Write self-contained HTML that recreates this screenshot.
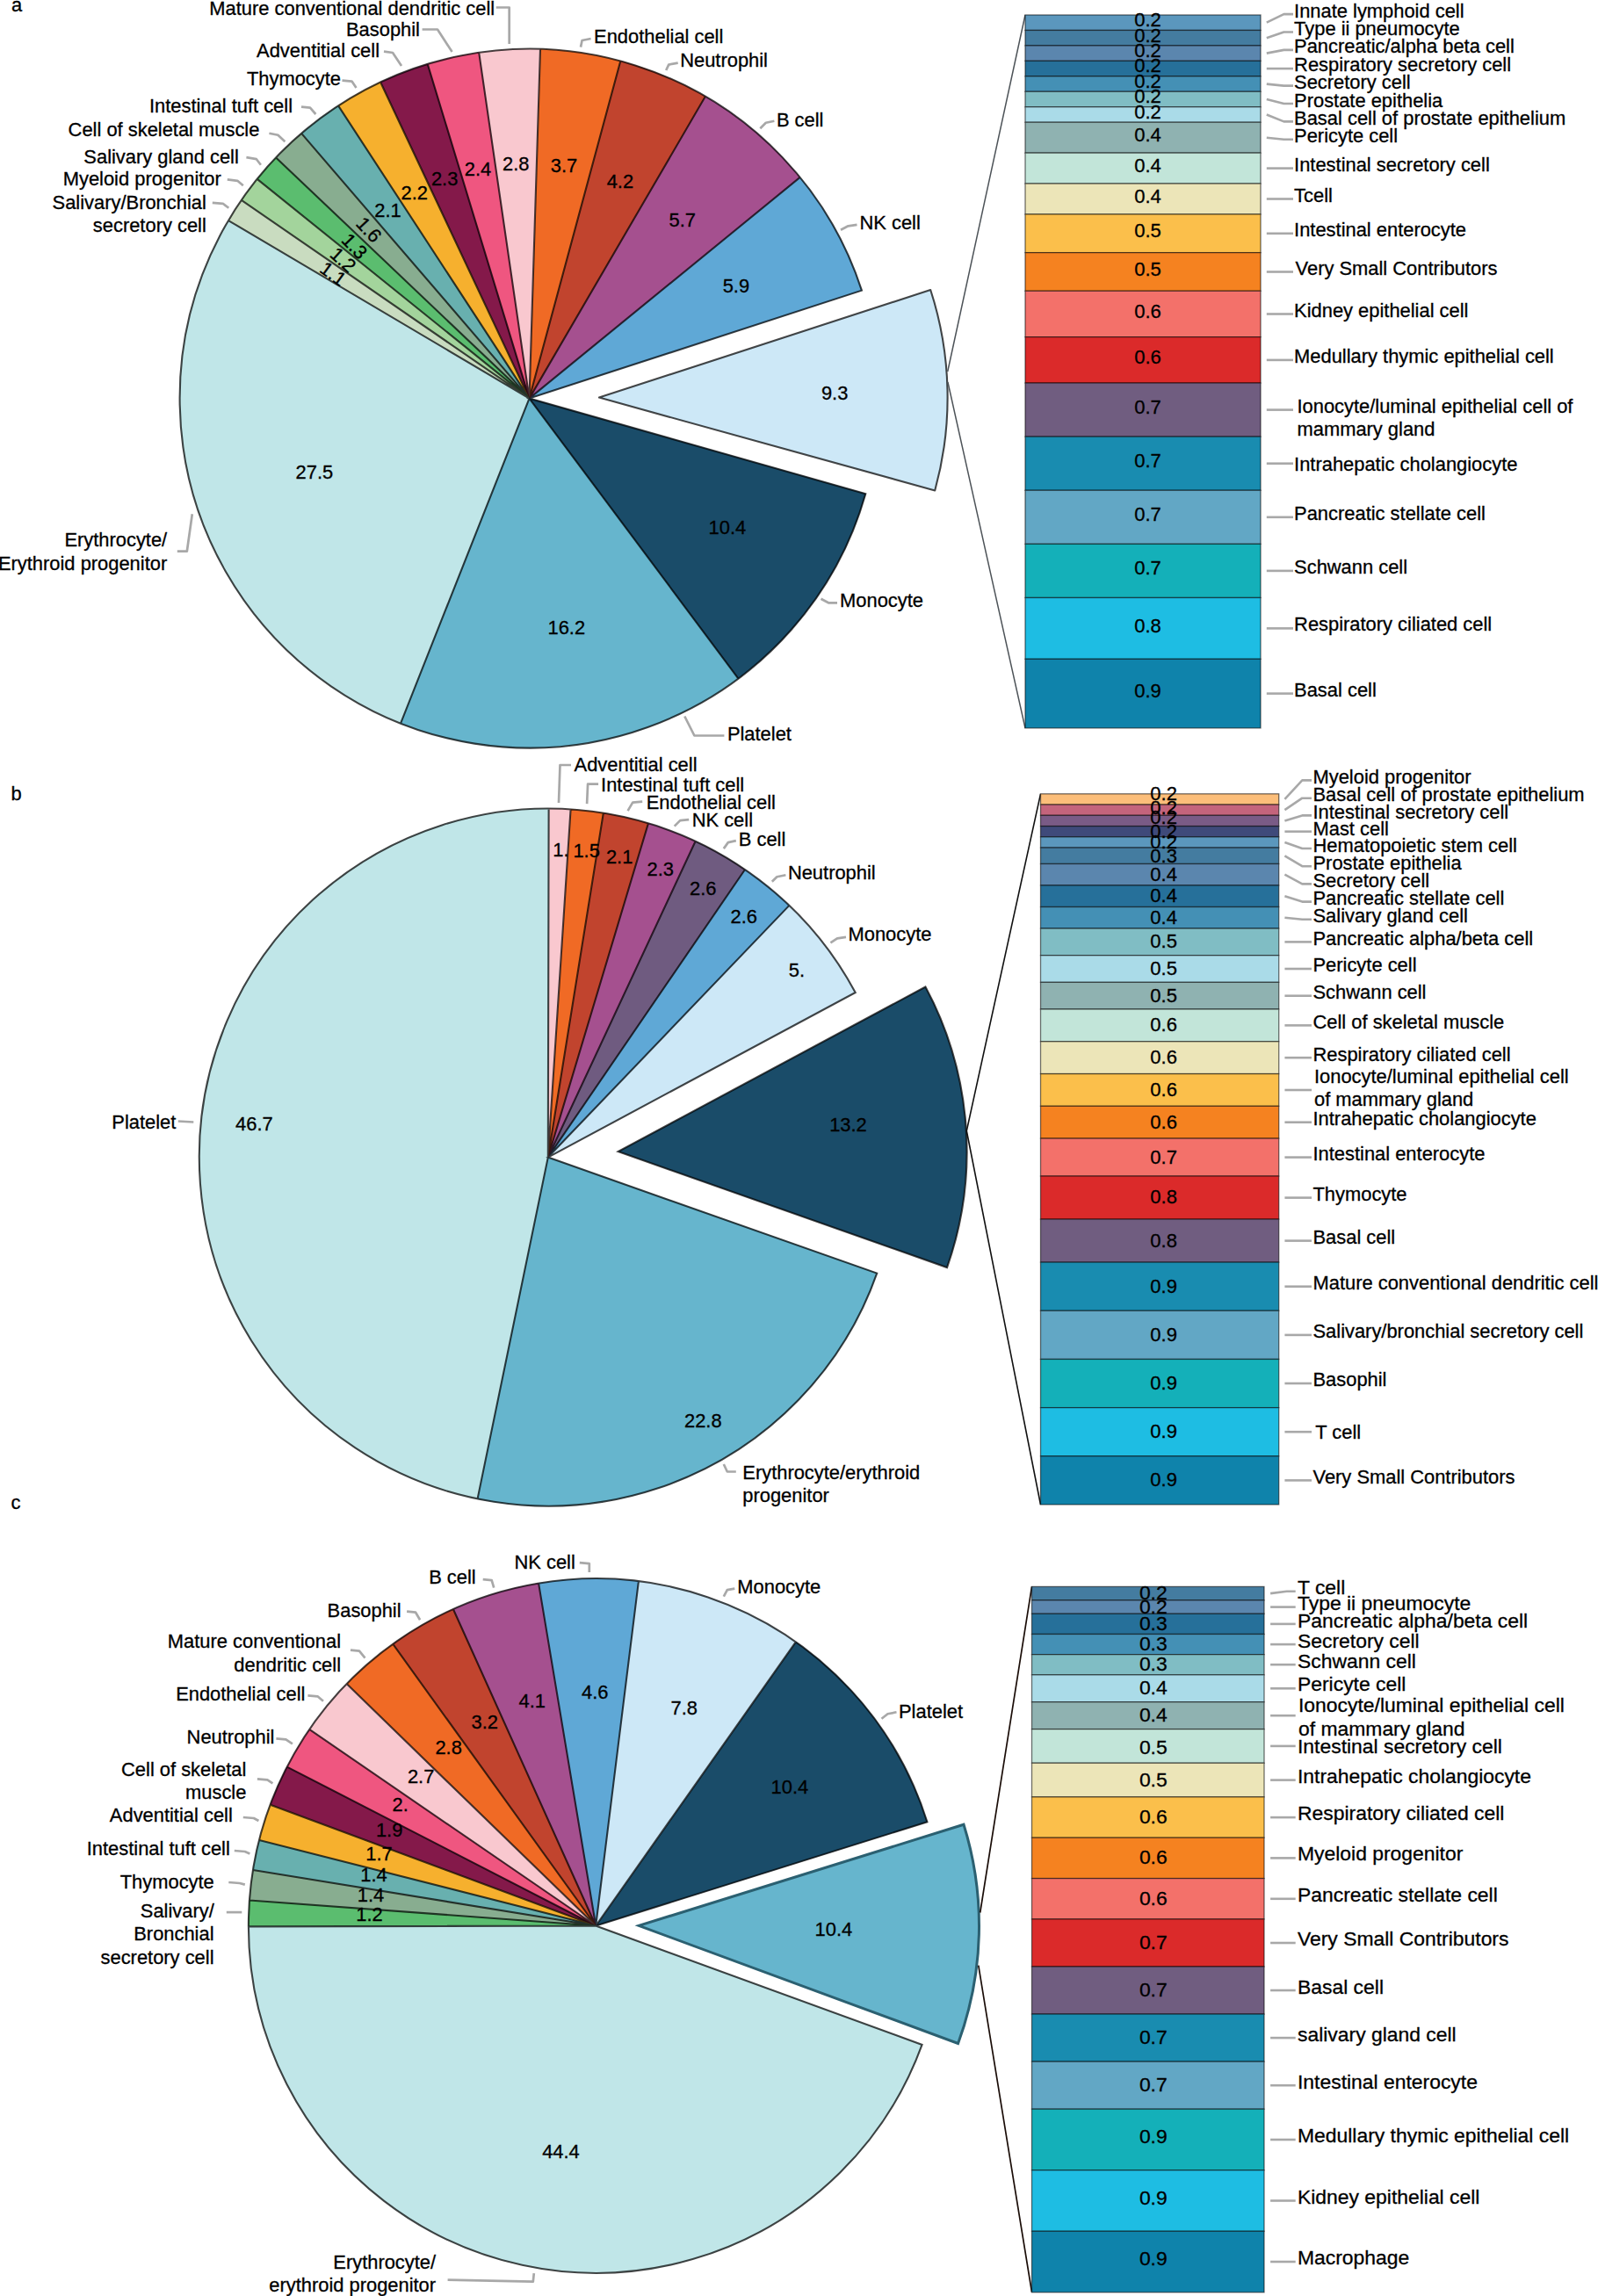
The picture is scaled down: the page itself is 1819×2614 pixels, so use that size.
<!DOCTYPE html>
<html><head><meta charset="utf-8"><title>Figure</title>
<style>html,body{margin:0;padding:0;background:#fff}svg{display:block}text{font-family:"Liberation Sans", sans-serif;stroke:#000;stroke-width:0.3px;}</style>
</head><body>
<svg width="1819" height="2614" viewBox="0 0 1819 2614">
<rect width="1819" height="2614" fill="#fff"/>
<text x="13.0" y="12.5" font-size="21.9" text-anchor="start" fill="#000">a</text>
<path d="M682.00,452.60L1064.21,558.45A396.6,396.6 0 0 0 1059.19,330.04Z" fill="#cde8f7" stroke="#000" stroke-opacity="0.72" stroke-width="2.1" stroke-linejoin="round"/>
<path d="M602.50,453.60L980.93,330.64A397.9,397.9 0 0 0 910.67,201.90Z" fill="#5fa8d6" stroke="#5fa8d6" stroke-opacity="1" stroke-width="0.6" stroke-linejoin="round"/>
<path d="M602.50,453.60L910.67,201.90A397.9,397.9 0 0 0 802.89,109.84Z" fill="#a5508f" stroke="#a5508f" stroke-opacity="1" stroke-width="0.6" stroke-linejoin="round"/>
<path d="M602.50,453.60L802.89,109.84A397.9,397.9 0 0 0 706.29,69.47Z" fill="#c1442e" stroke="#c1442e" stroke-opacity="1" stroke-width="0.6" stroke-linejoin="round"/>
<path d="M602.50,453.60L706.29,69.47A397.9,397.9 0 0 0 615.00,55.90Z" fill="#f06a25" stroke="#f06a25" stroke-opacity="1" stroke-width="0.6" stroke-linejoin="round"/>
<path d="M602.50,453.60L615.00,55.90A397.9,397.9 0 0 0 545.20,59.85Z" fill="#f9c8cf" stroke="#f9c8cf" stroke-opacity="1" stroke-width="0.6" stroke-linejoin="round"/>
<path d="M602.50,453.60L545.20,59.85A397.9,397.9 0 0 0 486.70,72.92Z" fill="#ef5680" stroke="#ef5680" stroke-opacity="1" stroke-width="0.6" stroke-linejoin="round"/>
<path d="M602.50,453.60L486.70,72.92A397.9,397.9 0 0 0 433.08,93.57Z" fill="#84194a" stroke="#84194a" stroke-opacity="1" stroke-width="0.6" stroke-linejoin="round"/>
<path d="M602.50,453.60L433.08,93.57A397.9,397.9 0 0 0 385.09,120.35Z" fill="#f6b02e" stroke="#f6b02e" stroke-opacity="1" stroke-width="0.6" stroke-linejoin="round"/>
<path d="M602.50,453.60L385.09,120.35A397.9,397.9 0 0 0 343.14,151.85Z" fill="#68b0af" stroke="#68b0af" stroke-opacity="1" stroke-width="0.6" stroke-linejoin="round"/>
<path d="M602.50,453.60L343.14,151.85A397.9,397.9 0 0 0 314.16,179.40Z" fill="#88ad90" stroke="#88ad90" stroke-opacity="1" stroke-width="0.6" stroke-linejoin="round"/>
<path d="M602.50,453.60L314.16,179.40A397.9,397.9 0 0 0 292.75,203.84Z" fill="#5bbd6f" stroke="#5bbd6f" stroke-opacity="1" stroke-width="0.6" stroke-linejoin="round"/>
<path d="M602.50,453.60L292.75,203.84A397.9,397.9 0 0 0 274.82,227.88Z" fill="#a3d49c" stroke="#a3d49c" stroke-opacity="1" stroke-width="0.6" stroke-linejoin="round"/>
<path d="M602.50,453.60L274.82,227.88A397.9,397.9 0 0 0 260.01,251.05Z" fill="#c9dcc0" stroke="#c9dcc0" stroke-opacity="1" stroke-width="0.6" stroke-linejoin="round"/>
<path d="M602.50,453.60L260.01,251.05A397.9,397.9 0 0 0 456.02,823.56Z" fill="#c0e6e8" stroke="#c0e6e8" stroke-opacity="1" stroke-width="0.6" stroke-linejoin="round"/>
<path d="M602.50,453.60L456.02,823.56A397.9,397.9 0 0 0 840.41,772.54Z" fill="#66b5cd" stroke="#66b5cd" stroke-opacity="1" stroke-width="0.6" stroke-linejoin="round"/>
<path d="M602.50,453.60L840.41,772.54A397.9,397.9 0 0 0 985.29,562.21Z" fill="#1a4c69" stroke="#1a4c69" stroke-opacity="1" stroke-width="0.6" stroke-linejoin="round"/>
<path d="M602.50,453.60L980.93,330.64A397.9,397.9 0 1 0 985.29,562.21ZM602.50,453.60L910.67,201.90M602.50,453.60L802.89,109.84M602.50,453.60L706.29,69.47M602.50,453.60L615.00,55.90M602.50,453.60L545.20,59.85M602.50,453.60L486.70,72.92M602.50,453.60L433.08,93.57M602.50,453.60L385.09,120.35M602.50,453.60L343.14,151.85M602.50,453.60L314.16,179.40M602.50,453.60L292.75,203.84M602.50,453.60L274.82,227.88M602.50,453.60L260.01,251.05M602.50,453.60L456.02,823.56M602.50,453.60L840.41,772.54" fill="none" stroke="#000" stroke-opacity="0.72" stroke-width="2.1" stroke-linejoin="miter"/>
<text x="950.1" y="454.5" font-size="21.9" text-anchor="middle">9.3</text>
<text x="837.9" y="333.0" font-size="21.9" text-anchor="middle">5.9</text>
<text x="776.7" y="257.5" font-size="21.9" text-anchor="middle">5.7</text>
<text x="705.9" y="214.0" font-size="21.9" text-anchor="middle">4.2</text>
<text x="642.0" y="196.2" font-size="21.9" text-anchor="middle">3.7</text>
<text x="587.3" y="193.7" font-size="21.9" text-anchor="middle">2.8</text>
<text x="544.0" y="199.7" font-size="21.9" text-anchor="middle">2.4</text>
<text x="506.1" y="211.2" font-size="21.9" text-anchor="middle">2.3</text>
<text x="471.8" y="227.2" font-size="21.9" text-anchor="middle">2.2</text>
<text x="441.5" y="247.0" font-size="21.9" text-anchor="middle">2.1</text>
<text x="420.1" y="269.1" font-size="21.9" text-anchor="middle" transform="rotate(47.0 420.1 261.3)">1.6</text>
<text x="403.8" y="287.9" font-size="21.9" text-anchor="middle" transform="rotate(46.0 403.8 280.1)">1.3</text>
<text x="390.7" y="303.5" font-size="21.9" text-anchor="middle" transform="rotate(42.0 390.7 295.7)">1.2</text>
<text x="379.4" y="319.2" font-size="21.9" text-anchor="middle" transform="rotate(36.0 379.4 311.4)">1.1</text>
<text x="357.9" y="545.4" font-size="21.9" text-anchor="middle">27.5</text>
<text x="644.8" y="721.6" font-size="21.9" text-anchor="middle">16.2</text>
<text x="827.9" y="608.0" font-size="21.9" text-anchor="middle">10.4</text>
<path d="M1167,17L1078.7,423M1167,829L1078.9,435" fill="none" stroke="#4d5358" stroke-width="1.5"/>
<rect x="1167" y="17.00" width="268" height="17.46" fill="#5b97bd" stroke="#000" stroke-opacity="0.55" stroke-width="1.3"/>
<rect x="1167" y="34.46" width="268" height="17.46" fill="#447ca0" stroke="#000" stroke-opacity="0.55" stroke-width="1.3"/>
<rect x="1167" y="51.92" width="268" height="17.46" fill="#5b86ae" stroke="#000" stroke-opacity="0.55" stroke-width="1.3"/>
<rect x="1167" y="69.38" width="268" height="17.46" fill="#26709a" stroke="#000" stroke-opacity="0.55" stroke-width="1.3"/>
<rect x="1167" y="86.84" width="268" height="17.46" fill="#4490b5" stroke="#000" stroke-opacity="0.55" stroke-width="1.3"/>
<rect x="1167" y="104.30" width="268" height="17.46" fill="#80bdc4" stroke="#000" stroke-opacity="0.55" stroke-width="1.3"/>
<rect x="1167" y="121.76" width="268" height="17.46" fill="#aadbe8" stroke="#000" stroke-opacity="0.55" stroke-width="1.3"/>
<rect x="1167" y="139.22" width="268" height="34.92" fill="#8fb2b1" stroke="#000" stroke-opacity="0.55" stroke-width="1.3"/>
<rect x="1167" y="174.14" width="268" height="34.92" fill="#c2e5d9" stroke="#000" stroke-opacity="0.55" stroke-width="1.3"/>
<rect x="1167" y="209.06" width="268" height="34.92" fill="#ece5b8" stroke="#000" stroke-opacity="0.55" stroke-width="1.3"/>
<rect x="1167" y="243.98" width="268" height="43.65" fill="#fbbf4b" stroke="#000" stroke-opacity="0.55" stroke-width="1.3"/>
<rect x="1167" y="287.63" width="268" height="43.65" fill="#f58220" stroke="#000" stroke-opacity="0.55" stroke-width="1.3"/>
<rect x="1167" y="331.28" width="268" height="52.38" fill="#f3716a" stroke="#000" stroke-opacity="0.55" stroke-width="1.3"/>
<rect x="1167" y="383.66" width="268" height="52.38" fill="#db2a2a" stroke="#000" stroke-opacity="0.55" stroke-width="1.3"/>
<rect x="1167" y="436.04" width="268" height="61.11" fill="#705d80" stroke="#000" stroke-opacity="0.55" stroke-width="1.3"/>
<rect x="1167" y="497.15" width="268" height="61.11" fill="#198cb0" stroke="#000" stroke-opacity="0.55" stroke-width="1.3"/>
<rect x="1167" y="558.26" width="268" height="61.11" fill="#62a7c5" stroke="#000" stroke-opacity="0.55" stroke-width="1.3"/>
<rect x="1167" y="619.37" width="268" height="61.11" fill="#14b0b9" stroke="#000" stroke-opacity="0.55" stroke-width="1.3"/>
<rect x="1167" y="680.48" width="268" height="69.84" fill="#1ebde3" stroke="#000" stroke-opacity="0.55" stroke-width="1.3"/>
<rect x="1167" y="750.32" width="268" height="78.57" fill="#0f83ab" stroke="#000" stroke-opacity="0.55" stroke-width="1.3"/>
<text x="1306.5" y="30.0" font-size="22" text-anchor="middle">0.2</text>
<text x="1306.5" y="47.5" font-size="22" text-anchor="middle">0.2</text>
<text x="1306.5" y="64.9" font-size="22" text-anchor="middle">0.2</text>
<text x="1306.5" y="82.4" font-size="22" text-anchor="middle">0.2</text>
<text x="1306.5" y="99.8" font-size="22" text-anchor="middle">0.2</text>
<text x="1306.5" y="117.3" font-size="22" text-anchor="middle">0.2</text>
<text x="1306.5" y="134.8" font-size="22" text-anchor="middle">0.2</text>
<text x="1306.5" y="161.0" font-size="22" text-anchor="middle">0.4</text>
<text x="1306.5" y="195.9" font-size="22" text-anchor="middle">0.4</text>
<text x="1306.5" y="230.8" font-size="22" text-anchor="middle">0.4</text>
<text x="1306.5" y="270.1" font-size="22" text-anchor="middle">0.5</text>
<text x="1306.5" y="313.7" font-size="22" text-anchor="middle">0.5</text>
<text x="1306.5" y="361.7" font-size="22" text-anchor="middle">0.6</text>
<text x="1306.5" y="414.1" font-size="22" text-anchor="middle">0.6</text>
<text x="1306.5" y="470.9" font-size="22" text-anchor="middle">0.7</text>
<text x="1306.5" y="532.0" font-size="22" text-anchor="middle">0.7</text>
<text x="1306.5" y="593.1" font-size="22" text-anchor="middle">0.7</text>
<text x="1306.5" y="654.2" font-size="22" text-anchor="middle">0.7</text>
<text x="1306.5" y="719.7" font-size="22" text-anchor="middle">0.8</text>
<text x="1306.5" y="793.9" font-size="22" text-anchor="middle">0.9</text>
<text x="563.2" y="17.3" font-size="21.9" text-anchor="end" fill="#000">Mature conventional dendritic cell</text>
<path d="M564.7,8.5L579.7,8.5L579.7,50.0" fill="none" stroke="#a8a8a8" stroke-width="2.7" stroke-linejoin="round"/>
<text x="478.0" y="41.0" font-size="21.9" text-anchor="end" fill="#000">Basophil</text>
<path d="M480.6,33.5L498.0,33.5L514.6,59.0" fill="none" stroke="#a8a8a8" stroke-width="2.7" stroke-linejoin="round"/>
<text x="432.0" y="65.0" font-size="21.9" text-anchor="end" fill="#000">Adventitial cell</text>
<path d="M437.0,58.6L447.0,60.0L457.0,75.0" fill="none" stroke="#a8a8a8" stroke-width="2.7" stroke-linejoin="round"/>
<text x="388.0" y="96.6" font-size="21.9" text-anchor="end" fill="#000">Thymocyte</text>
<path d="M389.5,91.6L400.5,92.6L405.5,100.0" fill="none" stroke="#a8a8a8" stroke-width="2.7" stroke-linejoin="round"/>
<text x="333.0" y="127.7" font-size="21.9" text-anchor="end" fill="#000">Intestinal tuft cell</text>
<path d="M343.0,121.7L353.0,122.7L359.4,130.0" fill="none" stroke="#a8a8a8" stroke-width="2.7" stroke-linejoin="round"/>
<text x="295.4" y="154.7" font-size="21.9" text-anchor="end" fill="#000">Cell of skeletal muscle</text>
<path d="M306.4,151.7L316.4,153.7L324.4,161.2" fill="none" stroke="#a8a8a8" stroke-width="2.7" stroke-linejoin="round"/>
<text x="271.8" y="185.5" font-size="21.9" text-anchor="end" fill="#000">Salivary gland cell</text>
<path d="M280.4,179.2L291.9,181.2L296.9,187.7" fill="none" stroke="#a8a8a8" stroke-width="2.7" stroke-linejoin="round"/>
<text x="251.8" y="211.3" font-size="21.9" text-anchor="end" fill="#000">Myeloid progenitor</text>
<path d="M258.8,204.3L270.3,205.8L276.8,211.3" fill="none" stroke="#a8a8a8" stroke-width="2.7" stroke-linejoin="round"/>
<text x="234.8" y="237.6" font-size="21.9" text-anchor="end" fill="#000">Salivary/Bronchial</text>
<path d="M241.8,230.8L253.8,231.8L260.3,236.8" fill="none" stroke="#a8a8a8" stroke-width="2.7" stroke-linejoin="round"/>
<text x="234.8" y="263.8" font-size="21.9" text-anchor="end" fill="#000">secretory cell</text>
<text x="676.1" y="48.6" font-size="21.9" text-anchor="start" fill="#000">Endothelial cell</text>
<path d="M672.6,44.0L662.6,46.0L661.0,53.6" fill="none" stroke="#a8a8a8" stroke-width="2.7" stroke-linejoin="round"/>
<text x="774.2" y="76.0" font-size="21.9" text-anchor="start" fill="#000">Neutrophil</text>
<path d="M771.7,71.6L761.2,73.6L758.2,80.0" fill="none" stroke="#a8a8a8" stroke-width="2.7" stroke-linejoin="round"/>
<text x="883.9" y="143.7" font-size="21.9" text-anchor="start" fill="#000">B cell</text>
<path d="M881.4,137.7L871.8,139.7L865.3,146.2" fill="none" stroke="#a8a8a8" stroke-width="2.7" stroke-linejoin="round"/>
<text x="978.5" y="260.8" font-size="21.9" text-anchor="start" fill="#000">NK cell</text>
<path d="M975.5,255.8L965.5,257.3L957.0,261.8" fill="none" stroke="#a8a8a8" stroke-width="2.7" stroke-linejoin="round"/>
<text x="956.1" y="691.3" font-size="21.9" text-anchor="start" fill="#000">Monocyte</text>
<path d="M953.0,686.3L943.0,686.3L934.5,681.8" fill="none" stroke="#a8a8a8" stroke-width="2.7" stroke-linejoin="round"/>
<text x="827.9" y="843.0" font-size="21.9" text-anchor="start" fill="#000">Platelet</text>
<path d="M824.4,837.5L790.4,837.5L779.3,815.5" fill="none" stroke="#a8a8a8" stroke-width="2.7" stroke-linejoin="round"/>
<text x="190.2" y="621.7" font-size="21.9" text-anchor="end" fill="#000">Erythrocyte/</text>
<path d="M201.8,627.7L212.8,627.7L218.8,585.2" fill="none" stroke="#a8a8a8" stroke-width="2.7" stroke-linejoin="round"/>
<text x="190.2" y="648.7" font-size="21.9" text-anchor="end" fill="#000">Erythroid progenitor</text>
<text x="1473.1" y="19.6" font-size="21.9" text-anchor="start" fill="#000">Innate lymphoid cell</text>
<path d="M1441.8,25.7L1461.4,16.1L1472.0,16.1" fill="none" stroke="#a8a8a8" stroke-width="2.6" stroke-linejoin="round"/>
<text x="1473.1" y="40.0" font-size="21.9" text-anchor="start" fill="#000">Type ii pneumocyte</text>
<path d="M1441.8,43.2L1461.4,36.5L1472.0,36.5" fill="none" stroke="#a8a8a8" stroke-width="2.6" stroke-linejoin="round"/>
<text x="1473.1" y="60.4" font-size="21.9" text-anchor="start" fill="#000">Pancreatic/alpha beta cell</text>
<path d="M1441.8,60.6L1461.4,56.9L1472.0,56.9" fill="none" stroke="#a8a8a8" stroke-width="2.6" stroke-linejoin="round"/>
<text x="1473.1" y="80.8" font-size="21.9" text-anchor="start" fill="#000">Respiratory secretory cell</text>
<path d="M1441.8,78.1L1472.0,78.1" fill="none" stroke="#a8a8a8" stroke-width="2.6" stroke-linejoin="round"/>
<text x="1473.1" y="101.1" font-size="21.9" text-anchor="start" fill="#000">Secretory cell</text>
<path d="M1441.8,95.6L1461.4,97.6L1472.0,97.6" fill="none" stroke="#a8a8a8" stroke-width="2.6" stroke-linejoin="round"/>
<text x="1473.1" y="121.5" font-size="21.9" text-anchor="start" fill="#000">Prostate epithelia</text>
<path d="M1441.8,113.0L1461.4,118.0L1472.0,118.0" fill="none" stroke="#a8a8a8" stroke-width="2.6" stroke-linejoin="round"/>
<text x="1473.1" y="141.9" font-size="21.9" text-anchor="start" fill="#000">Basal cell of prostate epithelium</text>
<path d="M1441.8,130.5L1461.4,138.4L1472.0,138.4" fill="none" stroke="#a8a8a8" stroke-width="2.6" stroke-linejoin="round"/>
<text x="1473.1" y="162.3" font-size="21.9" text-anchor="start" fill="#000">Pericyte cell</text>
<path d="M1441.8,156.7L1461.4,158.8L1472.0,158.8" fill="none" stroke="#a8a8a8" stroke-width="2.6" stroke-linejoin="round"/>
<text x="1473.1" y="194.6" font-size="21.9" text-anchor="start" fill="#000">Intestinal secretory cell</text>
<path d="M1441.8,191.6L1472.0,191.6" fill="none" stroke="#a8a8a8" stroke-width="2.6" stroke-linejoin="round"/>
<text x="1473.1" y="229.9" font-size="21.9" text-anchor="start" fill="#000">Tcell</text>
<path d="M1441.8,226.5L1472.0,226.5" fill="none" stroke="#a8a8a8" stroke-width="2.6" stroke-linejoin="round"/>
<text x="1473.1" y="269.0" font-size="21.9" text-anchor="start" fill="#000">Intestinal enterocyte</text>
<path d="M1441.8,265.8L1472.0,265.8" fill="none" stroke="#a8a8a8" stroke-width="2.6" stroke-linejoin="round"/>
<text x="1474.6" y="312.7" font-size="21.9" text-anchor="start" fill="#000">Very Small Contributors</text>
<path d="M1441.8,309.5L1472.0,309.5" fill="none" stroke="#a8a8a8" stroke-width="2.6" stroke-linejoin="round"/>
<text x="1473.1" y="360.8" font-size="21.9" text-anchor="start" fill="#000">Kidney epithelial cell</text>
<path d="M1441.8,357.5L1472.0,357.5" fill="none" stroke="#a8a8a8" stroke-width="2.6" stroke-linejoin="round"/>
<text x="1473.1" y="413.0" font-size="21.9" text-anchor="start" fill="#000">Medullary thymic epithelial cell</text>
<path d="M1441.8,409.9L1472.0,409.9" fill="none" stroke="#a8a8a8" stroke-width="2.6" stroke-linejoin="round"/>
<text x="1476.5" y="469.7" font-size="21.9" text-anchor="start" fill="#000">Ionocyte/luminal epithelial cell of</text>
<path d="M1441.8,466.6L1472.0,466.6" fill="none" stroke="#a8a8a8" stroke-width="2.6" stroke-linejoin="round"/>
<text x="1476.5" y="496.1" font-size="21.9" text-anchor="start" fill="#000">mammary gland</text>
<text x="1473.1" y="535.6" font-size="21.9" text-anchor="start" fill="#000">Intrahepatic cholangiocyte</text>
<path d="M1441.8,527.7L1472.0,527.7" fill="none" stroke="#a8a8a8" stroke-width="2.6" stroke-linejoin="round"/>
<text x="1473.1" y="591.6" font-size="21.9" text-anchor="start" fill="#000">Pancreatic stellate cell</text>
<path d="M1441.8,588.8L1472.0,588.8" fill="none" stroke="#a8a8a8" stroke-width="2.6" stroke-linejoin="round"/>
<text x="1473.1" y="652.8" font-size="21.9" text-anchor="start" fill="#000">Schwann cell</text>
<path d="M1441.8,649.9L1472.0,649.9" fill="none" stroke="#a8a8a8" stroke-width="2.6" stroke-linejoin="round"/>
<text x="1473.1" y="718.3" font-size="21.9" text-anchor="start" fill="#000">Respiratory ciliated cell</text>
<path d="M1441.8,715.4L1472.0,715.4" fill="none" stroke="#a8a8a8" stroke-width="2.6" stroke-linejoin="round"/>
<text x="1473.1" y="792.6" font-size="21.9" text-anchor="start" fill="#000">Basal cell</text>
<path d="M1441.8,789.6L1472.0,789.6" fill="none" stroke="#a8a8a8" stroke-width="2.6" stroke-linejoin="round"/>
<text x="12.5" y="911.0" font-size="21.9" text-anchor="start" fill="#000">b</text>
<path d="M703.60,1311.10L1078.02,1443.07A397.0,397.0 0 0 0 1053.48,1123.50Z" fill="#1a4c69" stroke="#000" stroke-opacity="0.72" stroke-width="2.1" stroke-linejoin="miter"/>
<path d="M623.80,1317.60L973.68,1130.00A397.0,397.0 0 0 0 898.40,1030.89Z" fill="#cde8f7" stroke="#cde8f7" stroke-opacity="1" stroke-width="0.6" stroke-linejoin="round"/>
<path d="M623.80,1317.60L898.40,1030.89A397.0,397.0 0 0 0 848.01,989.97Z" fill="#5fa8d6" stroke="#5fa8d6" stroke-opacity="1" stroke-width="0.6" stroke-linejoin="round"/>
<path d="M623.80,1317.60L848.01,989.97A397.0,397.0 0 0 0 791.62,957.81Z" fill="#6f5b80" stroke="#6f5b80" stroke-opacity="1" stroke-width="0.6" stroke-linejoin="round"/>
<path d="M623.80,1317.60L791.62,957.81A397.0,397.0 0 0 0 737.95,937.36Z" fill="#a5508f" stroke="#a5508f" stroke-opacity="1" stroke-width="0.6" stroke-linejoin="round"/>
<path d="M623.80,1317.60L737.95,937.36A397.0,397.0 0 0 0 686.83,925.63Z" fill="#c1442e" stroke="#c1442e" stroke-opacity="1" stroke-width="0.6" stroke-linejoin="round"/>
<path d="M623.80,1317.60L686.83,925.63A397.0,397.0 0 0 0 649.58,921.44Z" fill="#f06a25" stroke="#f06a25" stroke-opacity="1" stroke-width="0.6" stroke-linejoin="round"/>
<path d="M623.80,1317.60L649.58,921.44A397.0,397.0 0 0 0 624.61,920.60Z" fill="#f9c8cf" stroke="#f9c8cf" stroke-opacity="1" stroke-width="0.6" stroke-linejoin="round"/>
<path d="M623.80,1317.60L624.61,920.60A397.0,397.0 0 0 0 543.57,1706.41Z" fill="#c0e6e8" stroke="#c0e6e8" stroke-opacity="1" stroke-width="0.6" stroke-linejoin="round"/>
<path d="M623.80,1317.60L543.57,1706.41A397.0,397.0 0 0 0 998.22,1449.57Z" fill="#66b5cd" stroke="#66b5cd" stroke-opacity="1" stroke-width="0.6" stroke-linejoin="round"/>
<path d="M623.80,1317.60L973.68,1130.00A397.0,397.0 0 1 0 998.22,1449.57ZM623.80,1317.60L898.40,1030.89M623.80,1317.60L848.01,989.97M623.80,1317.60L791.62,957.81M623.80,1317.60L737.95,937.36M623.80,1317.60L686.83,925.63M623.80,1317.60L649.58,921.44M623.80,1317.60L624.61,920.60M623.80,1317.60L543.57,1706.41" fill="none" stroke="#000" stroke-opacity="0.72" stroke-width="2.1" stroke-linejoin="miter"/>
<text x="965.5" y="1288.3" font-size="21.9" text-anchor="middle">13.2</text>
<text x="906.9" y="1111.6" font-size="21.9" text-anchor="middle">5.</text>
<text x="846.8" y="1051.0" font-size="21.9" text-anchor="middle">2.6</text>
<text x="800.3" y="1019.0" font-size="21.9" text-anchor="middle">2.6</text>
<text x="751.7" y="996.5" font-size="21.9" text-anchor="middle">2.3</text>
<text x="705.1" y="983.0" font-size="21.9" text-anchor="middle">2.1</text>
<text x="667.6" y="976.4" font-size="21.9" text-anchor="middle">1.5</text>
<text x="638.5" y="975.4" font-size="21.9" text-anchor="middle">1.</text>
<text x="289.4" y="1286.8" font-size="21.9" text-anchor="middle">46.7</text>
<text x="800.3" y="1624.8" font-size="21.9" text-anchor="middle">22.8</text>
<path d="M1184.5,903.8L1100.3,1287.5L1184.5,1713" fill="none" stroke="#111" stroke-width="1.6" stroke-linejoin="round"/>
<rect x="1184.5" y="903.80" width="271.20000000000005" height="12.26" fill="#fcbe7a" stroke="#000" stroke-opacity="0.55" stroke-width="1.3"/>
<rect x="1184.5" y="916.06" width="271.20000000000005" height="12.26" fill="#c4647c" stroke="#000" stroke-opacity="0.55" stroke-width="1.3"/>
<rect x="1184.5" y="928.32" width="271.20000000000005" height="12.26" fill="#7a5b86" stroke="#000" stroke-opacity="0.55" stroke-width="1.3"/>
<rect x="1184.5" y="940.58" width="271.20000000000005" height="12.26" fill="#3f4a7a" stroke="#000" stroke-opacity="0.55" stroke-width="1.3"/>
<rect x="1184.5" y="952.84" width="271.20000000000005" height="12.26" fill="#5b97bd" stroke="#000" stroke-opacity="0.55" stroke-width="1.3"/>
<rect x="1184.5" y="965.10" width="271.20000000000005" height="18.39" fill="#447ca0" stroke="#000" stroke-opacity="0.55" stroke-width="1.3"/>
<rect x="1184.5" y="983.49" width="271.20000000000005" height="24.52" fill="#5b86ae" stroke="#000" stroke-opacity="0.55" stroke-width="1.3"/>
<rect x="1184.5" y="1008.01" width="271.20000000000005" height="24.52" fill="#26709a" stroke="#000" stroke-opacity="0.55" stroke-width="1.3"/>
<rect x="1184.5" y="1032.53" width="271.20000000000005" height="24.52" fill="#4490b5" stroke="#000" stroke-opacity="0.55" stroke-width="1.3"/>
<rect x="1184.5" y="1057.05" width="271.20000000000005" height="30.65" fill="#80bdc4" stroke="#000" stroke-opacity="0.55" stroke-width="1.3"/>
<rect x="1184.5" y="1087.70" width="271.20000000000005" height="30.65" fill="#aadbe8" stroke="#000" stroke-opacity="0.55" stroke-width="1.3"/>
<rect x="1184.5" y="1118.35" width="271.20000000000005" height="30.65" fill="#8fb2b1" stroke="#000" stroke-opacity="0.55" stroke-width="1.3"/>
<rect x="1184.5" y="1149.00" width="271.20000000000005" height="36.78" fill="#c2e5d9" stroke="#000" stroke-opacity="0.55" stroke-width="1.3"/>
<rect x="1184.5" y="1185.78" width="271.20000000000005" height="36.78" fill="#ece5b8" stroke="#000" stroke-opacity="0.55" stroke-width="1.3"/>
<rect x="1184.5" y="1222.56" width="271.20000000000005" height="36.78" fill="#fbbf4b" stroke="#000" stroke-opacity="0.55" stroke-width="1.3"/>
<rect x="1184.5" y="1259.34" width="271.20000000000005" height="36.78" fill="#f58220" stroke="#000" stroke-opacity="0.55" stroke-width="1.3"/>
<rect x="1184.5" y="1296.12" width="271.20000000000005" height="42.91" fill="#f3716a" stroke="#000" stroke-opacity="0.55" stroke-width="1.3"/>
<rect x="1184.5" y="1339.03" width="271.20000000000005" height="49.04" fill="#db2a2a" stroke="#000" stroke-opacity="0.55" stroke-width="1.3"/>
<rect x="1184.5" y="1388.07" width="271.20000000000005" height="49.04" fill="#705d80" stroke="#000" stroke-opacity="0.55" stroke-width="1.3"/>
<rect x="1184.5" y="1437.11" width="271.20000000000005" height="55.17" fill="#198cb0" stroke="#000" stroke-opacity="0.55" stroke-width="1.3"/>
<rect x="1184.5" y="1492.28" width="271.20000000000005" height="55.17" fill="#62a7c5" stroke="#000" stroke-opacity="0.55" stroke-width="1.3"/>
<rect x="1184.5" y="1547.45" width="271.20000000000005" height="55.17" fill="#14b0b9" stroke="#000" stroke-opacity="0.55" stroke-width="1.3"/>
<rect x="1184.5" y="1602.62" width="271.20000000000005" height="55.17" fill="#1ebde3" stroke="#000" stroke-opacity="0.55" stroke-width="1.3"/>
<rect x="1184.5" y="1657.79" width="271.20000000000005" height="55.17" fill="#0f83ab" stroke="#000" stroke-opacity="0.55" stroke-width="1.3"/>
<text x="1324.6" y="911.4" font-size="22" text-anchor="middle">0.2</text>
<text x="1324.6" y="927.1" font-size="22" text-anchor="middle">0.2</text>
<text x="1324.6" y="938.3" font-size="22" text-anchor="middle">0.2</text>
<text x="1324.6" y="954.3" font-size="22" text-anchor="middle">0.2</text>
<text x="1324.6" y="966.4" font-size="22" text-anchor="middle">0.2</text>
<text x="1324.6" y="982.2" font-size="22" text-anchor="middle">0.3</text>
<text x="1324.6" y="1002.6" font-size="22" text-anchor="middle">0.4</text>
<text x="1324.6" y="1027.1" font-size="22" text-anchor="middle">0.4</text>
<text x="1324.6" y="1051.7" font-size="22" text-anchor="middle">0.4</text>
<text x="1324.6" y="1079.3" font-size="22" text-anchor="middle">0.5</text>
<text x="1324.6" y="1109.9" font-size="22" text-anchor="middle">0.5</text>
<text x="1324.6" y="1140.6" font-size="22" text-anchor="middle">0.5</text>
<text x="1324.6" y="1174.3" font-size="22" text-anchor="middle">0.6</text>
<text x="1324.6" y="1211.0" font-size="22" text-anchor="middle">0.6</text>
<text x="1324.6" y="1247.8" font-size="22" text-anchor="middle">0.6</text>
<text x="1324.6" y="1284.6" font-size="22" text-anchor="middle">0.6</text>
<text x="1324.6" y="1324.5" font-size="22" text-anchor="middle">0.7</text>
<text x="1324.6" y="1370.4" font-size="22" text-anchor="middle">0.8</text>
<text x="1324.6" y="1419.5" font-size="22" text-anchor="middle">0.8</text>
<text x="1324.6" y="1471.6" font-size="22" text-anchor="middle">0.9</text>
<text x="1324.6" y="1526.7" font-size="22" text-anchor="middle">0.9</text>
<text x="1324.6" y="1581.9" font-size="22" text-anchor="middle">0.9</text>
<text x="1324.6" y="1637.1" font-size="22" text-anchor="middle">0.9</text>
<text x="1324.6" y="1692.3" font-size="22" text-anchor="middle">0.9</text>
<text x="653.6" y="877.5" font-size="21.9" text-anchor="start" fill="#000">Adventitial cell</text>
<path d="M650.0,871.0L637.5,871.0L636.0,914.0" fill="none" stroke="#a8a8a8" stroke-width="2.7" stroke-linejoin="round"/>
<text x="684.1" y="900.6" font-size="21.9" text-anchor="start" fill="#000">Intestinal tuft cell</text>
<path d="M681.1,892.6L669.1,892.6L668.1,915.1" fill="none" stroke="#a8a8a8" stroke-width="2.7" stroke-linejoin="round"/>
<text x="735.7" y="921.1" font-size="21.9" text-anchor="start" fill="#000">Endothelial cell</text>
<path d="M731.2,912.6L720.2,913.6L714.6,923.1" fill="none" stroke="#a8a8a8" stroke-width="2.7" stroke-linejoin="round"/>
<text x="787.7" y="941.1" font-size="21.9" text-anchor="start" fill="#000">NK cell</text>
<path d="M784.2,933.1L774.2,934.1L767.7,940.6" fill="none" stroke="#a8a8a8" stroke-width="2.7" stroke-linejoin="round"/>
<text x="840.8" y="962.6" font-size="21.9" text-anchor="start" fill="#000">B cell</text>
<path d="M837.8,957.1L828.8,959.1L823.8,966.1" fill="none" stroke="#a8a8a8" stroke-width="2.7" stroke-linejoin="round"/>
<text x="896.9" y="1000.7" font-size="21.9" text-anchor="start" fill="#000">Neutrophil</text>
<path d="M894.4,996.2L884.4,998.2L878.8,1003.7" fill="none" stroke="#a8a8a8" stroke-width="2.7" stroke-linejoin="round"/>
<text x="965.5" y="1070.8" font-size="21.9" text-anchor="start" fill="#000">Monocyte</text>
<path d="M963.0,1066.8L953.0,1068.3L945.4,1073.3" fill="none" stroke="#a8a8a8" stroke-width="2.7" stroke-linejoin="round"/>
<text x="200.3" y="1284.5" font-size="21.9" text-anchor="end" fill="#000">Platelet</text>
<path d="M202.8,1276.5L220.3,1277.5" fill="none" stroke="#a8a8a8" stroke-width="2.7" stroke-linejoin="round"/>
<text x="845.3" y="1683.5" font-size="21.9" text-anchor="start" fill="#000">Erythrocyte/erythroid</text>
<path d="M837.8,1675.5L827.8,1675.5L823.8,1667.0" fill="none" stroke="#a8a8a8" stroke-width="2.7" stroke-linejoin="round"/>
<text x="845.3" y="1709.6" font-size="21.9" text-anchor="start" fill="#000">progenitor</text>
<text x="1494.5" y="891.9" font-size="21.9" text-anchor="start" fill="#000">Myeloid progenitor</text>
<path d="M1462.4,909.9L1482.3,888.4L1493.0,888.4" fill="none" stroke="#a8a8a8" stroke-width="2.6" stroke-linejoin="round"/>
<text x="1494.5" y="912.2" font-size="21.9" text-anchor="start" fill="#000">Basal cell of prostate epithelium</text>
<path d="M1462.4,922.2L1482.3,908.7L1493.0,908.7" fill="none" stroke="#a8a8a8" stroke-width="2.6" stroke-linejoin="round"/>
<text x="1494.5" y="931.9" font-size="21.9" text-anchor="start" fill="#000">Intestinal secretory cell</text>
<path d="M1462.4,934.4L1482.3,928.4L1493.0,928.4" fill="none" stroke="#a8a8a8" stroke-width="2.6" stroke-linejoin="round"/>
<text x="1494.5" y="950.9" font-size="21.9" text-anchor="start" fill="#000">Mast cell</text>
<path d="M1462.4,946.7L1493.0,946.7" fill="none" stroke="#a8a8a8" stroke-width="2.6" stroke-linejoin="round"/>
<text x="1494.5" y="969.5" font-size="21.9" text-anchor="start" fill="#000">Hematopoietic stem cell</text>
<path d="M1462.4,959.0L1482.3,966.0L1493.0,966.0" fill="none" stroke="#a8a8a8" stroke-width="2.6" stroke-linejoin="round"/>
<text x="1494.5" y="989.7" font-size="21.9" text-anchor="start" fill="#000">Prostate epithelia</text>
<path d="M1462.4,974.3L1482.3,986.2L1493.0,986.2" fill="none" stroke="#a8a8a8" stroke-width="2.6" stroke-linejoin="round"/>
<text x="1494.5" y="1009.9" font-size="21.9" text-anchor="start" fill="#000">Secretory cell</text>
<path d="M1462.4,995.7L1482.3,1006.4L1493.0,1006.4" fill="none" stroke="#a8a8a8" stroke-width="2.6" stroke-linejoin="round"/>
<text x="1494.5" y="1030.1" font-size="21.9" text-anchor="start" fill="#000">Pancreatic stellate cell</text>
<path d="M1462.4,1020.3L1482.3,1026.6L1493.0,1026.6" fill="none" stroke="#a8a8a8" stroke-width="2.6" stroke-linejoin="round"/>
<text x="1494.5" y="1050.3" font-size="21.9" text-anchor="start" fill="#000">Salivary gland cell</text>
<path d="M1462.4,1044.8L1482.3,1046.8L1493.0,1046.8" fill="none" stroke="#a8a8a8" stroke-width="2.6" stroke-linejoin="round"/>
<text x="1494.5" y="1075.9" font-size="21.9" text-anchor="start" fill="#000">Pancreatic alpha/beta cell</text>
<path d="M1462.4,1072.4L1493.0,1072.4" fill="none" stroke="#a8a8a8" stroke-width="2.6" stroke-linejoin="round"/>
<text x="1494.5" y="1106.4" font-size="21.9" text-anchor="start" fill="#000">Pericyte cell</text>
<path d="M1462.4,1103.0L1493.0,1103.0" fill="none" stroke="#a8a8a8" stroke-width="2.6" stroke-linejoin="round"/>
<text x="1494.5" y="1136.9" font-size="21.9" text-anchor="start" fill="#000">Schwann cell</text>
<path d="M1462.4,1133.7L1493.0,1133.7" fill="none" stroke="#a8a8a8" stroke-width="2.6" stroke-linejoin="round"/>
<text x="1494.5" y="1170.7" font-size="21.9" text-anchor="start" fill="#000">Cell of skeletal muscle</text>
<path d="M1462.4,1167.4L1493.0,1167.4" fill="none" stroke="#a8a8a8" stroke-width="2.6" stroke-linejoin="round"/>
<text x="1494.5" y="1207.8" font-size="21.9" text-anchor="start" fill="#000">Respiratory ciliated cell</text>
<path d="M1462.4,1204.2L1493.0,1204.2" fill="none" stroke="#a8a8a8" stroke-width="2.6" stroke-linejoin="round"/>
<text x="1496.0" y="1233.4" font-size="21.9" text-anchor="start" fill="#000">Ionocyte/luminal epithelial cell</text>
<path d="M1462.4,1241.0L1493.0,1241.0" fill="none" stroke="#a8a8a8" stroke-width="2.6" stroke-linejoin="round"/>
<text x="1496.0" y="1259.4" font-size="21.9" text-anchor="start" fill="#000">of mammary gland</text>
<text x="1494.5" y="1281.2" font-size="21.9" text-anchor="start" fill="#000">Intrahepatic cholangiocyte</text>
<path d="M1462.4,1277.7L1493.0,1277.7" fill="none" stroke="#a8a8a8" stroke-width="2.6" stroke-linejoin="round"/>
<text x="1494.5" y="1320.9" font-size="21.9" text-anchor="start" fill="#000">Intestinal enterocyte</text>
<path d="M1462.4,1317.6L1493.0,1317.6" fill="none" stroke="#a8a8a8" stroke-width="2.6" stroke-linejoin="round"/>
<text x="1494.5" y="1367.1" font-size="21.9" text-anchor="start" fill="#000">Thymocyte</text>
<path d="M1462.4,1363.6L1493.0,1363.6" fill="none" stroke="#a8a8a8" stroke-width="2.6" stroke-linejoin="round"/>
<text x="1494.5" y="1415.8" font-size="21.9" text-anchor="start" fill="#000">Basal cell</text>
<path d="M1462.4,1412.6L1493.0,1412.6" fill="none" stroke="#a8a8a8" stroke-width="2.6" stroke-linejoin="round"/>
<text x="1494.5" y="1468.1" font-size="21.9" text-anchor="start" fill="#000">Mature conventional dendritic cell</text>
<path d="M1462.4,1464.7L1493.0,1464.7" fill="none" stroke="#a8a8a8" stroke-width="2.6" stroke-linejoin="round"/>
<text x="1494.5" y="1523.0" font-size="21.9" text-anchor="start" fill="#000">Salivary/bronchial secretory cell</text>
<path d="M1462.4,1519.9L1493.0,1519.9" fill="none" stroke="#a8a8a8" stroke-width="2.6" stroke-linejoin="round"/>
<text x="1494.5" y="1578.2" font-size="21.9" text-anchor="start" fill="#000">Basophil</text>
<path d="M1462.4,1575.0L1493.0,1575.0" fill="none" stroke="#a8a8a8" stroke-width="2.6" stroke-linejoin="round"/>
<text x="1497.3" y="1637.6" font-size="21.9" text-anchor="start" fill="#000">T cell</text>
<path d="M1462.4,1630.2L1493.0,1630.2" fill="none" stroke="#a8a8a8" stroke-width="2.6" stroke-linejoin="round"/>
<text x="1494.5" y="1688.8" font-size="21.9" text-anchor="start" fill="#000">Very Small Contributors</text>
<path d="M1462.4,1685.4L1493.0,1685.4" fill="none" stroke="#a8a8a8" stroke-width="2.6" stroke-linejoin="round"/>
<text x="12.5" y="1717.5" font-size="21.9" text-anchor="start" fill="#000">c</text>
<path d="M727.20,2192.40L1090.56,2326.45A387.3,387.3 0 0 0 1096.98,2077.23Z" fill="#66b5cd" stroke="#2b6071" stroke-opacity="1" stroke-width="3.0" stroke-linejoin="miter"/>
<path d="M678.20,2192.50L1055.41,2074.29A395.3,395.3 0 0 0 905.84,1869.32Z" fill="#1a4c69" stroke="#1a4c69" stroke-opacity="1" stroke-width="0.6" stroke-linejoin="round"/>
<path d="M678.20,2192.50L905.84,1869.32A395.3,395.3 0 0 0 726.92,1800.21Z" fill="#cde8f7" stroke="#cde8f7" stroke-opacity="1" stroke-width="0.6" stroke-linejoin="round"/>
<path d="M678.20,2192.50L726.92,1800.21A395.3,395.3 0 0 0 613.09,1802.60Z" fill="#5fa8d6" stroke="#5fa8d6" stroke-opacity="1" stroke-width="0.6" stroke-linejoin="round"/>
<path d="M678.20,2192.50L613.09,1802.60A395.3,395.3 0 0 0 515.91,1832.05Z" fill="#a5508f" stroke="#a5508f" stroke-opacity="1" stroke-width="0.6" stroke-linejoin="round"/>
<path d="M678.20,2192.50L515.91,1832.05A395.3,395.3 0 0 0 447.19,1871.73Z" fill="#c1442e" stroke="#c1442e" stroke-opacity="1" stroke-width="0.6" stroke-linejoin="round"/>
<path d="M678.20,2192.50L447.19,1871.73A395.3,395.3 0 0 0 394.61,1917.11Z" fill="#f06a25" stroke="#f06a25" stroke-opacity="1" stroke-width="0.6" stroke-linejoin="round"/>
<path d="M678.20,2192.50L394.61,1917.11A395.3,395.3 0 0 0 352.19,1968.94Z" fill="#f9c8cf" stroke="#f9c8cf" stroke-opacity="1" stroke-width="0.6" stroke-linejoin="round"/>
<path d="M678.20,2192.50L352.19,1968.94A395.3,395.3 0 0 0 326.74,2011.56Z" fill="#ef5680" stroke="#ef5680" stroke-opacity="1" stroke-width="0.6" stroke-linejoin="round"/>
<path d="M678.20,2192.50L326.74,2011.56A395.3,395.3 0 0 0 307.69,2054.71Z" fill="#84194a" stroke="#84194a" stroke-opacity="1" stroke-width="0.6" stroke-linejoin="round"/>
<path d="M678.20,2192.50L307.69,2054.71A395.3,395.3 0 0 0 295.11,2095.00Z" fill="#f6b02e" stroke="#f6b02e" stroke-opacity="1" stroke-width="0.6" stroke-linejoin="round"/>
<path d="M678.20,2192.50L295.11,2095.00A395.3,395.3 0 0 0 288.03,2129.03Z" fill="#68b0af" stroke="#68b0af" stroke-opacity="1" stroke-width="0.6" stroke-linejoin="round"/>
<path d="M678.20,2192.50L288.03,2129.03A395.3,395.3 0 0 0 283.96,2163.55Z" fill="#88ad90" stroke="#88ad90" stroke-opacity="1" stroke-width="0.6" stroke-linejoin="round"/>
<path d="M678.20,2192.50L283.96,2163.55A395.3,395.3 0 0 0 282.90,2193.33Z" fill="#5bbd6f" stroke="#5bbd6f" stroke-opacity="1" stroke-width="0.6" stroke-linejoin="round"/>
<path d="M678.20,2192.50L282.90,2193.33A395.3,395.3 0 0 0 1049.57,2327.96Z" fill="#c0e6e8" stroke="#c0e6e8" stroke-opacity="1" stroke-width="0.6" stroke-linejoin="round"/>
<path d="M678.20,2192.50L1055.41,2074.29A395.3,395.3 0 1 0 1049.57,2327.96ZM678.20,2192.50L905.84,1869.32M678.20,2192.50L726.92,1800.21M678.20,2192.50L613.09,1802.60M678.20,2192.50L515.91,1832.05M678.20,2192.50L447.19,1871.73M678.20,2192.50L394.61,1917.11M678.20,2192.50L352.19,1968.94M678.20,2192.50L326.74,2011.56M678.20,2192.50L307.69,2054.71M678.20,2192.50L295.11,2095.00M678.20,2192.50L288.03,2129.03M678.20,2192.50L283.96,2163.55M678.20,2192.50L282.90,2193.33" fill="none" stroke="#000" stroke-opacity="0.72" stroke-width="2.1" stroke-linejoin="miter"/>
<text x="948.9" y="2204.0" font-size="21.9" text-anchor="middle">10.4</text>
<text x="898.9" y="2042.2" font-size="21.9" text-anchor="middle">10.4</text>
<text x="778.7" y="1951.6" font-size="21.9" text-anchor="middle">7.8</text>
<text x="677.3" y="1934.1" font-size="21.9" text-anchor="middle">4.6</text>
<text x="605.8" y="1944.1" font-size="21.9" text-anchor="middle">4.1</text>
<text x="551.7" y="1968.1" font-size="21.9" text-anchor="middle">3.2</text>
<text x="510.6" y="1997.2" font-size="21.9" text-anchor="middle">2.8</text>
<text x="479.1" y="2029.7" font-size="21.9" text-anchor="middle">2.7</text>
<text x="455.6" y="2062.2" font-size="21.9" text-anchor="middle">2.</text>
<text x="443.1" y="2090.8" font-size="21.9" text-anchor="middle">1.9</text>
<text x="431.5" y="2118.3" font-size="21.9" text-anchor="middle">1.7</text>
<text x="425.5" y="2142.3" font-size="21.9" text-anchor="middle">1.4</text>
<text x="422.0" y="2164.9" font-size="21.9" text-anchor="middle">1.4</text>
<text x="420.5" y="2187.4" font-size="21.9" text-anchor="middle">1.2</text>
<text x="638.5" y="2456.8" font-size="21.9" text-anchor="middle">44.4</text>
<path d="M1174.5,1806.4L1115.7,2177.5M1174.5,2609.5L1113.8,2237.6" fill="none" stroke="#1a0d08" stroke-width="1.7"/>
<rect x="1174.5" y="1806.40" width="264.5" height="15.45" fill="#447ca0" stroke="#000" stroke-opacity="0.55" stroke-width="1.3"/>
<rect x="1174.5" y="1821.85" width="264.5" height="15.45" fill="#5b86ae" stroke="#000" stroke-opacity="0.55" stroke-width="1.3"/>
<rect x="1174.5" y="1837.30" width="264.5" height="23.18" fill="#26709a" stroke="#000" stroke-opacity="0.55" stroke-width="1.3"/>
<rect x="1174.5" y="1860.48" width="264.5" height="23.18" fill="#4490b5" stroke="#000" stroke-opacity="0.55" stroke-width="1.3"/>
<rect x="1174.5" y="1883.65" width="264.5" height="23.18" fill="#80bdc4" stroke="#000" stroke-opacity="0.55" stroke-width="1.3"/>
<rect x="1174.5" y="1906.83" width="264.5" height="30.90" fill="#aadbe8" stroke="#000" stroke-opacity="0.55" stroke-width="1.3"/>
<rect x="1174.5" y="1937.73" width="264.5" height="30.90" fill="#8fb2b1" stroke="#000" stroke-opacity="0.55" stroke-width="1.3"/>
<rect x="1174.5" y="1968.63" width="264.5" height="38.62" fill="#c2e5d9" stroke="#000" stroke-opacity="0.55" stroke-width="1.3"/>
<rect x="1174.5" y="2007.25" width="264.5" height="38.62" fill="#ece5b8" stroke="#000" stroke-opacity="0.55" stroke-width="1.3"/>
<rect x="1174.5" y="2045.88" width="264.5" height="46.35" fill="#fbbf4b" stroke="#000" stroke-opacity="0.55" stroke-width="1.3"/>
<rect x="1174.5" y="2092.23" width="264.5" height="46.35" fill="#f58220" stroke="#000" stroke-opacity="0.55" stroke-width="1.3"/>
<rect x="1174.5" y="2138.58" width="264.5" height="46.35" fill="#f3716a" stroke="#000" stroke-opacity="0.55" stroke-width="1.3"/>
<rect x="1174.5" y="2184.93" width="264.5" height="54.07" fill="#db2a2a" stroke="#000" stroke-opacity="0.55" stroke-width="1.3"/>
<rect x="1174.5" y="2239.00" width="264.5" height="54.07" fill="#705d80" stroke="#000" stroke-opacity="0.55" stroke-width="1.3"/>
<rect x="1174.5" y="2293.07" width="264.5" height="54.07" fill="#198cb0" stroke="#000" stroke-opacity="0.55" stroke-width="1.3"/>
<rect x="1174.5" y="2347.15" width="264.5" height="54.07" fill="#62a7c5" stroke="#000" stroke-opacity="0.55" stroke-width="1.3"/>
<rect x="1174.5" y="2401.22" width="264.5" height="69.53" fill="#14b0b9" stroke="#000" stroke-opacity="0.55" stroke-width="1.3"/>
<rect x="1174.5" y="2470.75" width="264.5" height="69.53" fill="#1ebde3" stroke="#000" stroke-opacity="0.55" stroke-width="1.3"/>
<rect x="1174.5" y="2540.27" width="264.5" height="69.53" fill="#0f83ab" stroke="#000" stroke-opacity="0.55" stroke-width="1.3"/>
<text x="1312.8" y="1821.0" font-size="22.9" text-anchor="middle">0.2</text>
<text x="1312.8" y="1836.5" font-size="22.9" text-anchor="middle">0.2</text>
<text x="1312.8" y="1855.8" font-size="22.9" text-anchor="middle">0.3</text>
<text x="1312.8" y="1879.0" font-size="22.9" text-anchor="middle">0.3</text>
<text x="1312.8" y="1902.1" font-size="22.9" text-anchor="middle">0.3</text>
<text x="1312.8" y="1929.2" font-size="22.9" text-anchor="middle">0.4</text>
<text x="1312.8" y="1960.1" font-size="22.9" text-anchor="middle">0.4</text>
<text x="1312.8" y="1996.9" font-size="22.9" text-anchor="middle">0.5</text>
<text x="1312.8" y="2033.5" font-size="22.9" text-anchor="middle">0.5</text>
<text x="1312.8" y="2075.9" font-size="22.9" text-anchor="middle">0.6</text>
<text x="1312.8" y="2122.3" font-size="22.9" text-anchor="middle">0.6</text>
<text x="1312.8" y="2168.6" font-size="22.9" text-anchor="middle">0.6</text>
<text x="1312.8" y="2218.9" font-size="22.9" text-anchor="middle">0.7</text>
<text x="1312.8" y="2272.9" font-size="22.9" text-anchor="middle">0.7</text>
<text x="1312.8" y="2327.0" font-size="22.9" text-anchor="middle">0.7</text>
<text x="1312.8" y="2381.1" font-size="22.9" text-anchor="middle">0.7</text>
<text x="1312.8" y="2440.0" font-size="22.9" text-anchor="middle">0.9</text>
<text x="1312.8" y="2509.7" font-size="22.9" text-anchor="middle">0.9</text>
<text x="1312.8" y="2579.2" font-size="22.9" text-anchor="middle">0.9</text>
<text x="654.8" y="1786.0" font-size="21.9" text-anchor="end" fill="#000">NK cell</text>
<path d="M659.8,1779.1L670.8,1780.1L670.8,1790.1" fill="none" stroke="#a8a8a8" stroke-width="2.7" stroke-linejoin="round"/>
<text x="541.7" y="1802.5" font-size="21.9" text-anchor="end" fill="#000">B cell</text>
<path d="M549.7,1798.1L559.7,1799.1L562.2,1807.6" fill="none" stroke="#a8a8a8" stroke-width="2.7" stroke-linejoin="round"/>
<text x="456.6" y="1840.6" font-size="21.9" text-anchor="end" fill="#000">Basophil</text>
<path d="M463.1,1834.7L473.1,1835.7L478.1,1844.2" fill="none" stroke="#a8a8a8" stroke-width="2.7" stroke-linejoin="round"/>
<text x="388.0" y="1876.1" font-size="21.9" text-anchor="end" fill="#000">Mature conventional</text>
<text x="388.0" y="1902.7" font-size="21.9" text-anchor="end" fill="#000">dendritic cell</text>
<path d="M399.0,1878.7L409.0,1879.7L415.5,1887.7" fill="none" stroke="#a8a8a8" stroke-width="2.7" stroke-linejoin="round"/>
<text x="347.4" y="1936.2" font-size="21.9" text-anchor="end" fill="#000">Endothelial cell</text>
<path d="M350.4,1930.3L361.5,1931.3L368.0,1936.8" fill="none" stroke="#a8a8a8" stroke-width="2.7" stroke-linejoin="round"/>
<text x="312.4" y="1985.3" font-size="21.9" text-anchor="end" fill="#000">Neutrophil</text>
<path d="M314.4,1979.4L325.4,1980.4L332.9,1985.4" fill="none" stroke="#a8a8a8" stroke-width="2.7" stroke-linejoin="round"/>
<text x="280.4" y="2021.8" font-size="21.9" text-anchor="end" fill="#000">Cell of skeletal</text>
<text x="280.4" y="2048.3" font-size="21.9" text-anchor="end" fill="#000">muscle</text>
<path d="M292.9,2025.4L304.4,2026.4L310.4,2030.4" fill="none" stroke="#a8a8a8" stroke-width="2.7" stroke-linejoin="round"/>
<text x="264.8" y="2074.4" font-size="21.9" text-anchor="end" fill="#000">Adventitial cell</text>
<path d="M276.8,2069.0L288.9,2070.0L294.4,2073.0" fill="none" stroke="#a8a8a8" stroke-width="2.7" stroke-linejoin="round"/>
<text x="261.8" y="2112.4" font-size="21.9" text-anchor="end" fill="#000">Intestinal tuft cell</text>
<path d="M266.8,2107.0L278.8,2108.0L284.4,2110.5" fill="none" stroke="#a8a8a8" stroke-width="2.7" stroke-linejoin="round"/>
<text x="243.8" y="2149.9" font-size="21.9" text-anchor="end" fill="#000">Thymocyte</text>
<path d="M260.3,2143.0L272.8,2144.0L278.8,2145.6" fill="none" stroke="#a8a8a8" stroke-width="2.7" stroke-linejoin="round"/>
<text x="243.8" y="2182.5" font-size="21.9" text-anchor="end" fill="#000">Salivary/</text>
<path d="M257.8,2177.1L275.3,2177.1" fill="none" stroke="#a8a8a8" stroke-width="2.7" stroke-linejoin="round"/>
<text x="243.5" y="2209.0" font-size="21.9" text-anchor="end" fill="#000">Bronchial</text>
<text x="243.5" y="2235.5" font-size="21.9" text-anchor="end" fill="#000">secretory cell</text>
<text x="496.1" y="2583.0" font-size="21.9" text-anchor="end" fill="#000">Erythrocyte/</text>
<path d="M509.6,2595.6L606.8,2597.6L607.8,2588.1" fill="none" stroke="#a8a8a8" stroke-width="2.7" stroke-linejoin="round"/>
<text x="496.1" y="2609.0" font-size="21.9" text-anchor="end" fill="#000">erythroid progenitor</text>
<text x="839.3" y="1814.0" font-size="21.9" text-anchor="start" fill="#000">Monocyte</text>
<path d="M836.3,1808.6L827.8,1810.1L823.8,1817.6" fill="none" stroke="#a8a8a8" stroke-width="2.7" stroke-linejoin="round"/>
<text x="1023.0" y="1955.7" font-size="21.9" text-anchor="start" fill="#000">Platelet</text>
<path d="M1020.5,1949.3L1010.5,1951.3L1003.5,1956.8" fill="none" stroke="#a8a8a8" stroke-width="2.7" stroke-linejoin="round"/>
<text x="1477.0" y="1815.2" font-size="22.9" text-anchor="start" fill="#000">T cell</text>
<path d="M1446.1,1814.1L1464.7,1811.7L1474.7,1811.7" fill="none" stroke="#a8a8a8" stroke-width="2.6" stroke-linejoin="round"/>
<text x="1477.0" y="1833.2" font-size="22.9" text-anchor="start" fill="#000">Type ii pneumocyte</text>
<path d="M1446.1,1829.6L1474.7,1829.6" fill="none" stroke="#a8a8a8" stroke-width="2.6" stroke-linejoin="round"/>
<text x="1477.0" y="1853.3" font-size="22.9" text-anchor="start" fill="#000">Pancreatic alpha/beta cell</text>
<path d="M1446.1,1848.9L1474.7,1848.9" fill="none" stroke="#a8a8a8" stroke-width="2.6" stroke-linejoin="round"/>
<text x="1477.0" y="1875.5" font-size="22.9" text-anchor="start" fill="#000">Secretory cell</text>
<path d="M1446.1,1872.1L1474.7,1872.1" fill="none" stroke="#a8a8a8" stroke-width="2.6" stroke-linejoin="round"/>
<text x="1477.0" y="1898.5" font-size="22.9" text-anchor="start" fill="#000">Schwann cell</text>
<path d="M1446.1,1895.2L1474.7,1895.2" fill="none" stroke="#a8a8a8" stroke-width="2.6" stroke-linejoin="round"/>
<text x="1477.0" y="1925.3" font-size="22.9" text-anchor="start" fill="#000">Pericyte cell</text>
<path d="M1446.1,1922.3L1474.7,1922.3" fill="none" stroke="#a8a8a8" stroke-width="2.6" stroke-linejoin="round"/>
<text x="1478.0" y="1948.5" font-size="22.9" text-anchor="start" fill="#000">Ionocyte/luminal epithelial cell</text>
<path d="M1446.1,1953.2L1474.7,1953.2" fill="none" stroke="#a8a8a8" stroke-width="2.6" stroke-linejoin="round"/>
<text x="1478.0" y="1975.5" font-size="22.9" text-anchor="start" fill="#000">of mammary gland</text>
<text x="1477.0" y="1996.4" font-size="22.9" text-anchor="start" fill="#000">Intestinal secretory cell</text>
<path d="M1446.1,1987.9L1474.7,1987.9" fill="none" stroke="#a8a8a8" stroke-width="2.6" stroke-linejoin="round"/>
<text x="1477.0" y="2029.9" font-size="22.9" text-anchor="start" fill="#000">Intrahepatic cholangiocyte</text>
<path d="M1446.1,2026.6L1474.7,2026.6" fill="none" stroke="#a8a8a8" stroke-width="2.6" stroke-linejoin="round"/>
<text x="1477.0" y="2072.2" font-size="22.9" text-anchor="start" fill="#000">Respiratory ciliated cell</text>
<path d="M1446.1,2069.1L1474.7,2069.1" fill="none" stroke="#a8a8a8" stroke-width="2.6" stroke-linejoin="round"/>
<text x="1477.0" y="2118.3" font-size="22.9" text-anchor="start" fill="#000">Myeloid progenitor</text>
<path d="M1446.1,2115.4L1474.7,2115.4" fill="none" stroke="#a8a8a8" stroke-width="2.6" stroke-linejoin="round"/>
<text x="1477.0" y="2164.7" font-size="22.9" text-anchor="start" fill="#000">Pancreatic stellate cell</text>
<path d="M1446.1,2161.8L1474.7,2161.8" fill="none" stroke="#a8a8a8" stroke-width="2.6" stroke-linejoin="round"/>
<text x="1477.0" y="2215.0" font-size="22.9" text-anchor="start" fill="#000">Very Small Contributors</text>
<path d="M1446.1,2212.0L1474.7,2212.0" fill="none" stroke="#a8a8a8" stroke-width="2.6" stroke-linejoin="round"/>
<text x="1477.0" y="2269.5" font-size="22.9" text-anchor="start" fill="#000">Basal cell</text>
<path d="M1446.1,2266.0L1474.7,2266.0" fill="none" stroke="#a8a8a8" stroke-width="2.6" stroke-linejoin="round"/>
<text x="1477.0" y="2323.5" font-size="22.9" text-anchor="start" fill="#000">salivary gland cell</text>
<path d="M1446.1,2320.1L1474.7,2320.1" fill="none" stroke="#a8a8a8" stroke-width="2.6" stroke-linejoin="round"/>
<text x="1477.0" y="2377.5" font-size="22.9" text-anchor="start" fill="#000">Intestinal enterocyte</text>
<path d="M1446.1,2374.2L1474.7,2374.2" fill="none" stroke="#a8a8a8" stroke-width="2.6" stroke-linejoin="round"/>
<text x="1477.0" y="2439.4" font-size="22.9" text-anchor="start" fill="#000">Medullary thymic epithelial cell</text>
<path d="M1446.1,2436.0L1474.7,2436.0" fill="none" stroke="#a8a8a8" stroke-width="2.6" stroke-linejoin="round"/>
<text x="1477.0" y="2508.9" font-size="22.9" text-anchor="start" fill="#000">Kidney epithelial cell</text>
<path d="M1446.1,2505.5L1474.7,2505.5" fill="none" stroke="#a8a8a8" stroke-width="2.6" stroke-linejoin="round"/>
<text x="1477.0" y="2578.4" font-size="22.9" text-anchor="start" fill="#000">Macrophage</text>
<path d="M1446.1,2575.0L1474.7,2575.0" fill="none" stroke="#a8a8a8" stroke-width="2.6" stroke-linejoin="round"/>
</svg>
</body></html>
